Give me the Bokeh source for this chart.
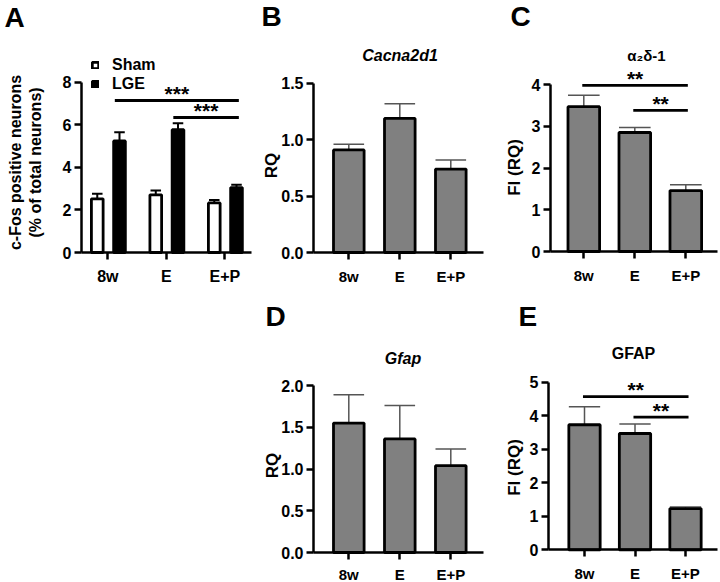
import math
from bokeh.plotting import figure
from bokeh.models import Range1d, FixedTicker, Label, Legend, LegendItem, NumeralTickFormatter
from bokeh.layouts import column, row
from bokeh.embed import file_html
from bokeh.resources import INLINE

FONT = "Liberation Sans"

# ---------------- data ----------------
categories = ["8w", "E", "E+P"]
groups_a = ["Sham", "LGE"]

# Panel A: c-Fos positive neurons (% of total neurons)
a_sham_mean = [2.52, 2.71, 2.33]
a_sham_err = [0.24, 0.20, 0.14]
a_lge_mean = [5.24, 5.77, 3.05]
a_lge_err = [0.41, 0.30, 0.13]
a_sig = [(0, 2, 7.14, "***"), (1, 2, 6.34, "***")]

# Panel B: Cacna2d1 RQ
b_mean = [0.91, 1.19, 0.74]
b_err = [0.05, 0.13, 0.08]

# Panel C: alpha2delta-1 FI (RQ)
c_mean = [3.47, 2.85, 1.46]
c_err = [0.27, 0.12, 0.14]
c_sig = [(0, 2, 3.98, "**"), (1, 2, 3.38, "**")]

# Panel D: Gfap RQ
d_mean = [1.55, 1.36, 1.04]
d_err = [0.34, 0.40, 0.20]

# Panel E: GFAP FI (RQ)
e_mean = [3.73, 3.47, 1.23]
e_err = [0.54, 0.28, 0.05]
e_sig = [(0, 2, 4.57, "**"), (1, 2, 3.96, "**")]

yticks_a = [0, 2, 4, 6, 8]
yticks_b = [0.0, 0.5, 1.0, 1.5]
yticks_c = [0, 1, 2, 3, 4]
yticks_d = [0.0, 0.5, 1.0, 1.5, 2.0]
yticks_e = [0, 1, 2, 3, 4, 5]

# ---------------- layout ----------------
ROW1_H, ROW2_H = 300, 282
W_A, W_B, W_C = 255, 245, 220


class Panel:
    """A figure whose frame fills its whole cell; axes are drawn at fixed spots."""

    def __init__(self, cell_x, cell_y, cell_w, cell_h, axis_x, axis_end, zero_y,
                 cat0, ppx, ppy, yticks, fmt, xfont="15px", yfont="16px", xstand=8):
        self.cat0, self.zero, self.ppx, self.ppy = cat0, zero_y, ppx, ppy
        xs = (cell_x - cat0) / ppx
        xe = (cell_x + cell_w - cat0) / ppx
        ys = (zero_y - (cell_y + cell_h)) / ppy
        ye = (zero_y - cell_y) / ppy
        p = figure(width=cell_w, height=cell_h, output_backend="svg", toolbar_location=None,
                   title=None, x_range=Range1d(xs, xe), y_range=Range1d(ys, ye),
                   min_border_left=0, min_border_right=0, min_border_top=0, min_border_bottom=0)
        p.outline_line_color = None
        p.xgrid.visible = False
        p.ygrid.visible = False
        p.background_fill_color = "white"
        p.border_fill_color = "white"
        for ax in (p.xaxis[0], p.yaxis[0]):
            ax.axis_line_width = 2.5
            ax.axis_line_color = "black"
            ax.major_tick_line_width = 2.5
            ax.major_tick_line_color = "black"
            ax.major_tick_in = 0
            ax.major_tick_out = 7
            ax.minor_tick_line_color = None
            ax.major_label_text_font = FONT
            ax.major_label_text_font_style = "bold"
            ax.major_label_text_color = "black"
        ax_x = (axis_x - cat0) / ppx
        xa = p.xaxis[0]
        xa.fixed_location = 0
        xa.bounds = (ax_x, (axis_end - cat0) / ppx)
        xa.ticker = FixedTicker(ticks=list(range(len(categories))))
        xa.major_label_overrides = {i: c for i, c in enumerate(categories)}
        xa.major_label_text_font_size = xfont
        xa.major_label_standoff = xstand
        ya = p.yaxis[0]
        ya.fixed_location = ax_x
        ya.ticker = FixedTicker(ticks=yticks)
        ya.bounds = (0, max(yticks))
        ya.formatter = NumeralTickFormatter(format=fmt)
        ya.major_label_text_font_size = yfont
        ya.major_label_standoff = 3
        self.p = p

    def xy(self, rx, ry):
        return (rx - self.cat0) / self.ppx, (self.zero - ry) / self.ppy

    def text(self, rx, ry, txt, size="15px", style="bold", align="center",
             baseline="middle", angle=0.0):
        x, y = self.xy(rx, ry)
        self.p.add_layout(Label(x=x, y=y, text=txt, text_font=FONT, text_font_size=size,
                                text_font_style=style, text_align=align,
                                text_baseline=baseline, angle=angle, text_color="black"))


def bars(pn, xs, means, errs, width, fill, err_color, err_w, cap_half):
    p = pn.p
    tops = [m + e for m, e in zip(means, errs)]
    p.segment(x0=xs, y0=means, x1=xs, y1=tops, line_color=err_color, line_width=err_w)
    p.segment(x0=[x - cap_half for x in xs], y0=tops, x1=[x + cap_half for x in xs], y1=tops,
              line_color=err_color, line_width=err_w)
    r = p.vbar(x=xs, top=means, width=width, bottom=0, fill_color=fill,
               line_color="black", line_width=2.8)
    return r


def sig(pn, comps, xpos_from, xpos_to, size="21px", lift=7):
    p = pn.p
    x0 = [xpos_from[a] for a, b, h, s in comps]
    x1 = [xpos_to[b] for a, b, h, s in comps]
    ys = [h for a, b, h, s in comps]
    p.segment(x0=x0, y0=ys, x1=x1, y1=ys, line_color="black", line_width=2.8)
    for xa_, xb_, y, comp in zip(x0, x1, ys, comps):
        p.add_layout(Label(x=(xa_ + xb_) / 2, y=y, text=comp[3], text_font=FONT,
                           text_font_size=size, text_font_style="bold", text_align="center",
                           text_baseline="middle", y_offset=lift, text_color="black"))


idx = list(range(len(categories)))
HALF_PI = math.pi / 2

# ---------------- Panel A ----------------
A = Panel(0, 0, W_A, ROW1_H, axis_x=81, axis_end=251, zero_y=252,
          cat0=107.3, ppx=58.5, ppy=21.29, yticks=yticks_a, fmt="0",
          xfont="16px", yfont="16px", xstand=8)
off_sham, off_lge = -0.18, 0.20
xs_sham = [i + off_sham for i in idx]
xs_lge = [i + off_lge for i in idx]
r_sham = bars(A, xs_sham, a_sham_mean, a_sham_err, 0.2, "white", "black", 2, 0.09)
r_lge = bars(A, xs_lge, a_lge_mean, a_lge_err, 0.2, "black", "black", 2, 0.09)
sig(A, a_sig, [x - 0.08 for x in xs_lge], [x + 0.04 for x in xs_lge])
leg = Legend(items=[LegendItem(label=groups_a[0], renderers=[r_sham]),
                    LegendItem(label=groups_a[1], renderers=[r_lge])],
             location=(91, 207), orientation="vertical",
             glyph_width=8, glyph_height=8, label_height=19, spacing=0,
             label_standoff=13, padding=0, margin=0,
             border_line_color=None, background_fill_alpha=0,
             label_text_font=FONT, label_text_font_size="16px",
             label_text_font_style="bold", label_text_color="black")
A.p.add_layout(leg)
A.text(4, 17, "A", size="28px", align="left")
A.text(15, 162, "c-Fos positive neurons", size="16px", angle=HALF_PI)
A.text(35, 162, "(% of total neurons)", size="16px", angle=HALF_PI)

# ---------------- Panel B ----------------
B = Panel(W_A, 0, W_B, ROW1_H, axis_x=313, axis_end=483, zero_y=252,
          cat0=348.3, ppx=51, ppy=112.67, yticks=yticks_b, fmt="0.0")
bars(B, idx, b_mean, b_err, 0.6, "#808080", "#555555", 1.5, 0.3)
B.text(261, 16, "B", size="28px", align="left")
B.text(399.5, 55, "Cacna2d1", size="16px", style="bold italic")
B.text(271, 165, "RQ", size="17px", angle=HALF_PI)

# ---------------- Panel C ----------------
C = Panel(W_A + W_B, 0, W_C, ROW1_H, axis_x=550, axis_end=717, zero_y=251,
          cat0=583.3, ppx=51, ppy=41.75, yticks=yticks_c, fmt="0")
bars(C, idx, c_mean, c_err, 0.62, "#808080", "#555555", 1.5, 0.31)
sig(C, c_sig, [i - 0.03 for i in idx], [i + 0.04 for i in idx])
C.text(510, 16, "C", size="28px", align="left")
C.text(646, 55, "\u03b1\u2082\u03b4-1", size="15px")
C.text(514, 167, "FI (RQ)", size="17px", angle=HALF_PI)

# ---------------- Panel D ----------------
D = Panel(W_A, ROW1_H, W_B, ROW2_H, axis_x=313, axis_end=483, zero_y=552,
          cat0=348.3, ppx=51, ppy=83.5, yticks=yticks_d, fmt="0.0", xstand=6)
bars(D, idx, d_mean, d_err, 0.6, "#808080", "#555555", 1.5, 0.3)
D.text(265, 316, "D", size="28px", align="left")
D.text(402.5, 358, "Gfap", size="16px", style="bold italic")
D.text(272, 465, "RQ", size="17px", angle=HALF_PI)

# ---------------- Panel E ----------------
E = Panel(W_A + W_B, ROW1_H, W_C, ROW2_H, axis_x=548, axis_end=717, zero_y=549.3,
          cat0=584, ppx=50.5, ppy=33.52, yticks=yticks_e, fmt="0", xstand=8)
bars(E, idx, e_mean, e_err, 0.62, "#808080", "#555555", 1.5, 0.31)
sig(E, e_sig, [i - 0.03 for i in idx], [i + 0.06 for i in idx])
E.text(518, 316, "E", size="28px", align="left")
E.text(633, 353, "GFAP", size="16px")
E.text(514, 467, "FI (RQ)", size="17px", angle=HALF_PI)

blank = figure(width=W_A, height=ROW2_H, output_backend="svg", toolbar_location=None,
               title=None, min_border_left=0, min_border_right=0, min_border_top=0,
               min_border_bottom=0, x_range=Range1d(0, 1), y_range=Range1d(0, 1))
blank.axis.visible = False
blank.grid.visible = False
blank.outline_line_color = None

layout = column(row(A.p, B.p, C.p), row(blank, D.p, E.p))
open("out.html", "w").write(file_html(layout, INLINE))
